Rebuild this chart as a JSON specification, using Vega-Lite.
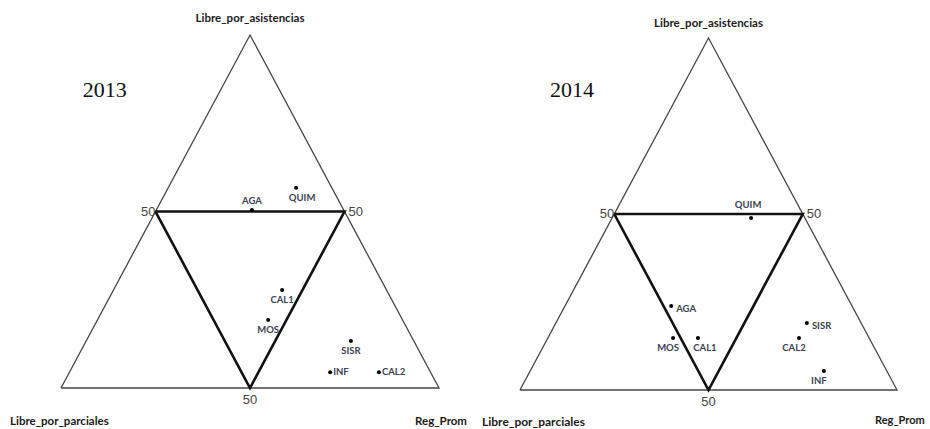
{
  "$schema": "https://vega.github.io/schema/vega-lite/v6.json",
  "padding": 0,
  "spacing": 0,
  "bounds": "flush",
  "background": "white",
  "config": {"view": {"stroke": null}},
  "datasets": {
    "frame": [
      {"shape": "outer", "ord": 0, "x": 0, "y": 0},
      {"shape": "outer", "ord": 1, "x": 100, "y": 0},
      {"shape": "outer", "ord": 2, "x": 50, "y": 100},
      {"shape": "outer", "ord": 3, "x": 0, "y": 0},
      {"shape": "inner", "ord": 0, "x": 25, "y": 50},
      {"shape": "inner", "ord": 1, "x": 75, "y": 50},
      {"shape": "inner", "ord": 2, "x": 50, "y": 0},
      {"shape": "inner", "ord": 3, "x": 25, "y": 50}
    ],
    "corners": [
      {"name": "Libre_por_asistencias", "x": 50, "y": 100},
      {"name": "Libre_por_parciales", "x": 0, "y": 0},
      {"name": "Reg_Prom", "x": 100, "y": 0}
    ],
    "ticks": [
      {"side": "left", "label": "50", "x": 25, "y": 50},
      {"side": "right", "label": "50", "x": 75, "y": 50},
      {"side": "bottom", "label": "50", "x": 50, "y": 0}
    ],
    "years": [
      {"year": "2013", "x": 11.6, "y": 84.4},
      {"year": "2014", "x": 13.8, "y": 85.2}
    ],
    "careers": [
      {"year": "2013", "name": "AGA", "x": 50.5, "y": 50.4},
      {"year": "2013", "name": "QUIM", "x": 62.2, "y": 56.7},
      {"year": "2013", "name": "CAL1", "x": 58.5, "y": 27.8},
      {"year": "2013", "name": "MOS", "x": 54.8, "y": 19.3},
      {"year": "2013", "name": "SISR", "x": 76.7, "y": 13.3},
      {"year": "2013", "name": "INF", "x": 71.2, "y": 4.5},
      {"year": "2013", "name": "CAL2", "x": 84.1, "y": 4.5},
      {"year": "2014", "name": "QUIM", "x": 61.3, "y": 48.9},
      {"year": "2014", "name": "AGA", "x": 40.1, "y": 23.9},
      {"year": "2014", "name": "MOS", "x": 40.6, "y": 14.8},
      {"year": "2014", "name": "CAL1", "x": 47.2, "y": 14.8},
      {"year": "2014", "name": "SISR", "x": 76.1, "y": 19.0},
      {"year": "2014", "name": "CAL2", "x": 74.0, "y": 14.8},
      {"year": "2014", "name": "INF", "x": 80.6, "y": 5.4}
    ]
  },
  "hconcat": [
    {
      "width": 472,
      "height": 429,
      "encoding": {
        "x": {"field": "x", "type": "quantitative", "axis": null,
              "scale": {"domain": [-16.14, 108.73], "nice": false, "zero": false}},
        "y": {"field": "y", "type": "quantitative", "axis": null,
              "scale": {"domain": [-11.61, 109.92], "nice": false, "zero": false}}
      },
      "layer": [
        {
          "data": {"name": "frame"},
          "transform": [{"filter": "datum.shape === 'outer'"}],
          "mark": {"type": "line", "color": "#444", "strokeWidth": 1.3},
          "encoding": {"order": {"field": "ord"}}
        },
        {
          "data": {"name": "frame"},
          "transform": [{"filter": "datum.shape === 'inner'"}],
          "mark": {"type": "line", "color": "#111", "strokeWidth": 2.6},
          "encoding": {"order": {"field": "ord"}}
        },
        {
          "data": {"name": "careers"},
          "transform": [{"filter": "datum.year === '2013'"}],
          "mark": {"type": "circle", "color": "#000", "opacity": 1, "size": 16}
        },
        {
          "data": {"name": "careers"},
          "transform": [{"filter": "datum.year === '2013' && datum.name === 'AGA'"}],
          "mark": {"type": "text", "font": "Lato", "fontWeight": "bold", "fontSize": 9.5, "color": "#3a4252", "dy": -9},
          "encoding": {"text": {"field": "name"}}
        },
        {
          "data": {"name": "careers"},
          "transform": [{"filter": {"field": "name", "oneOf": ["CAL1", "MOS", "SISR"]}}, {"filter": "datum.year === '2013'"}],
          "mark": {"type": "text", "font": "Lato", "fontWeight": "bold", "fontSize": 9.5, "color": "#3a4252", "dy": 10},
          "encoding": {"text": {"field": "name"}}
        },
        {
          "data": {"name": "careers"},
          "transform": [{"filter": "datum.year === '2013' && datum.name === 'QUIM'"}],
          "mark": {"type": "text", "font": "Lato", "fontWeight": "bold", "fontSize": 9.5, "color": "#3a4252", "dy": 10, "dx": 6},
          "encoding": {"text": {"field": "name"}}
        },
        {
          "data": {"name": "careers"},
          "transform": [{"filter": {"field": "name", "oneOf": ["INF", "CAL2"]}}, {"filter": "datum.year === '2013'"}],
          "mark": {"type": "text", "font": "Lato", "fontWeight": "bold", "fontSize": 9.5, "color": "#3a4252", "align": "left", "dx": 3},
          "encoding": {"text": {"field": "name"}}
        },
        {
          "data": {"name": "corners"},
          "transform": [{"filter": "datum.name === 'Libre_por_asistencias'"}],
          "mark": {"type": "text", "font": "Lato", "fontWeight": "bold", "fontSize": 11.5, "color": "#1a1a1a", "dy": -16},
          "encoding": {"text": {"field": "name"}}
        },
        {
          "data": {"name": "corners"},
          "transform": [{"filter": "datum.name === 'Libre_por_parciales'"}],
          "mark": {"type": "text", "font": "Lato", "fontWeight": "bold", "fontSize": 11.5, "color": "#1a1a1a", "align": "left", "dx": -51, "dy": 34},
          "encoding": {"text": {"field": "name"}}
        },
        {
          "data": {"name": "corners"},
          "transform": [{"filter": "datum.name === 'Reg_Prom'"}],
          "mark": {"type": "text", "font": "Lato", "fontWeight": "bold", "fontSize": 11.5, "color": "#1a1a1a", "align": "right", "dx": 28, "dy": 34},
          "encoding": {"text": {"field": "name"}}
        },
        {
          "data": {"name": "ticks"},
          "transform": [{"filter": "datum.side === 'left'"}],
          "mark": {"type": "text", "font": "Liberation Sans", "fontSize": 13, "color": "#444", "align": "right", "dx": 0},
          "encoding": {"text": {"field": "label"}}
        },
        {
          "data": {"name": "ticks"},
          "transform": [{"filter": "datum.side === 'right'"}],
          "mark": {"type": "text", "font": "Liberation Sans", "fontSize": 13, "color": "#444", "align": "left", "dx": 4},
          "encoding": {"text": {"field": "label"}}
        },
        {
          "data": {"name": "ticks"},
          "transform": [{"filter": "datum.side === 'bottom'"}],
          "mark": {"type": "text", "font": "Liberation Sans", "fontSize": 13, "color": "#444", "dy": 12},
          "encoding": {"text": {"field": "label"}}
        },
        {
          "data": {"name": "years"},
          "transform": [{"filter": "datum.year === '2013'"}],
          "mark": {"type": "text", "font": "Liberation Serif", "fontSize": 22, "color": "#111"},
          "encoding": {"text": {"field": "year"}}
        }
      ]
    },
    {
      "width": 458,
      "height": 429,
      "encoding": {
        "x": {"field": "x", "type": "quantitative", "axis": null,
              "scale": {"domain": [-12.73, 108.75], "nice": false, "zero": false}},
        "y": {"field": "y", "type": "quantitative", "axis": null,
              "scale": {"domain": [-11.08, 110.8], "nice": false, "zero": false}}
      },
      "layer": [
        {
          "data": {"name": "frame"},
          "transform": [{"filter": "datum.shape === 'outer'"}],
          "mark": {"type": "line", "color": "#444", "strokeWidth": 1.3},
          "encoding": {"order": {"field": "ord"}}
        },
        {
          "data": {"name": "frame"},
          "transform": [{"filter": "datum.shape === 'inner'"}],
          "mark": {"type": "line", "color": "#111", "strokeWidth": 2.6},
          "encoding": {"order": {"field": "ord"}}
        },
        {
          "data": {"name": "careers"},
          "transform": [{"filter": "datum.year === '2014'"}],
          "mark": {"type": "circle", "color": "#000", "opacity": 1, "size": 16}
        },
        {
          "data": {"name": "careers"},
          "transform": [{"filter": "datum.year === '2014' && datum.name === 'QUIM'"}],
          "mark": {"type": "text", "font": "Lato", "fontWeight": "bold", "fontSize": 9.5, "color": "#3a4252", "dy": -13, "dx": -3},
          "encoding": {"text": {"field": "name"}}
        },
        {
          "data": {"name": "careers"},
          "transform": [{"filter": {"field": "name", "oneOf": ["AGA", "SISR"]}}, {"filter": "datum.year === '2014'"}],
          "mark": {"type": "text", "font": "Lato", "fontWeight": "bold", "fontSize": 9.5, "color": "#3a4252", "align": "left", "dx": 5, "dy": 3},
          "encoding": {"text": {"field": "name"}}
        },
        {
          "data": {"name": "careers"},
          "transform": [{"filter": {"field": "name", "oneOf": ["MOS", "CAL2", "INF"]}}, {"filter": "datum.year === '2014'"}],
          "mark": {"type": "text", "font": "Lato", "fontWeight": "bold", "fontSize": 9.5, "color": "#3a4252", "dy": 10, "dx": -5},
          "encoding": {"text": {"field": "name"}}
        },
        {
          "data": {"name": "careers"},
          "transform": [{"filter": "datum.year === '2014' && datum.name === 'CAL1'"}],
          "mark": {"type": "text", "font": "Lato", "fontWeight": "bold", "fontSize": 9.5, "color": "#3a4252", "dy": 10, "dx": 7},
          "encoding": {"text": {"field": "name"}}
        },
        {
          "data": {"name": "corners"},
          "transform": [{"filter": "datum.name === 'Libre_por_asistencias'"}],
          "mark": {"type": "text", "font": "Lato", "fontWeight": "bold", "fontSize": 11.5, "color": "#1a1a1a", "dy": -14},
          "encoding": {"text": {"field": "name"}}
        },
        {
          "data": {"name": "corners"},
          "transform": [{"filter": "datum.name === 'Libre_por_parciales'"}],
          "mark": {"type": "text", "font": "Lato", "fontWeight": "bold", "fontSize": 12, "color": "#1a1a1a", "align": "left", "dx": -38, "dy": 32},
          "encoding": {"text": {"field": "name"}}
        },
        {
          "data": {"name": "corners"},
          "transform": [{"filter": "datum.name === 'Reg_Prom'"}],
          "mark": {"type": "text", "font": "Lato", "fontWeight": "bold", "fontSize": 11, "color": "#1a1a1a", "align": "left", "dx": -22, "dy": 31},
          "encoding": {"text": {"field": "name"}}
        },
        {
          "data": {"name": "ticks"},
          "transform": [{"filter": "datum.side === 'left'"}],
          "mark": {"type": "text", "font": "Liberation Sans", "fontSize": 13, "color": "#444", "align": "right", "dx": 0},
          "encoding": {"text": {"field": "label"}}
        },
        {
          "data": {"name": "ticks"},
          "transform": [{"filter": "datum.side === 'right'"}],
          "mark": {"type": "text", "font": "Liberation Sans", "fontSize": 13, "color": "#444", "align": "left", "dx": 4},
          "encoding": {"text": {"field": "label"}}
        },
        {
          "data": {"name": "ticks"},
          "transform": [{"filter": "datum.side === 'bottom'"}],
          "mark": {"type": "text", "font": "Liberation Sans", "fontSize": 13, "color": "#444", "dy": 12},
          "encoding": {"text": {"field": "label"}}
        },
        {
          "data": {"name": "years"},
          "transform": [{"filter": "datum.year === '2014'"}],
          "mark": {"type": "text", "font": "Liberation Serif", "fontSize": 22, "color": "#111"},
          "encoding": {"text": {"field": "year"}}
        }
      ]
    }
  ]
}
